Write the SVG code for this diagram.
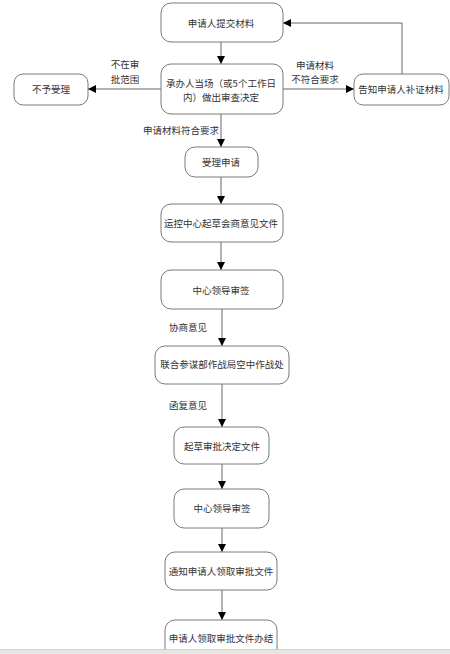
<svg xmlns="http://www.w3.org/2000/svg" width="450" height="654" viewBox="0 0 450 654">
<defs>
<style>
.box{fill:#fff;stroke:#7a7a7a;stroke-width:1}
.t{font-family:"Noto Sans CJK SC","Liberation Serif",serif;font-size:9.5px;fill:#333;text-anchor:middle;dominant-baseline:central}
.c{fill:none;stroke:#666;stroke-width:1}
</style>
<marker id="ah" markerWidth="8" markerHeight="8" refX="8" refY="4" orient="auto" markerUnits="userSpaceOnUse">
<path d="M0,0 L8,4 L0,8 Z" fill="#000"/>
</marker>
</defs>
<rect width="450" height="654" fill="#fff"/>
<g id="connectors">
<line class="c" x1="221" y1="42" x2="221" y2="64" marker-end="url(#ah)"/>
<line class="c" x1="161" y1="89" x2="88" y2="89" marker-end="url(#ah)"/>
<line class="c" x1="283" y1="89" x2="354" y2="89" marker-end="url(#ah)"/>
<polyline class="c" points="402,74 402,23 283,23" marker-end="url(#ah)"/>
<line class="c" x1="221" y1="114" x2="221" y2="147" marker-end="url(#ah)"/>
<line class="c" x1="221" y1="177" x2="221" y2="204" marker-end="url(#ah)"/>
<line class="c" x1="221" y1="242" x2="221" y2="270" marker-end="url(#ah)"/>
<line class="c" x1="222" y1="309" x2="222" y2="346" marker-end="url(#ah)"/>
<line class="c" x1="222" y1="384" x2="222" y2="427" marker-end="url(#ah)"/>
<line class="c" x1="222" y1="464" x2="222" y2="489" marker-end="url(#ah)"/>
<line class="c" x1="222" y1="528" x2="222" y2="552" marker-end="url(#ah)"/>
<line class="c" x1="222" y1="590" x2="222" y2="620" marker-end="url(#ah)"/>
<text class="t" x="125" y="64">不在审</text>
<text class="t" x="125" y="79">批范围</text>
<text class="t" x="315" y="65">申请材料</text>
<text class="t" x="315" y="79">不符合要求</text>
<text class="t" x="181" y="130">申请材料符合要求</text>
<text class="t" x="188" y="327">协商意见</text>
<text class="t" x="188" y="405">函复意见</text>
</g>
<g id="n1"><rect class="box" x="161" y="3" width="122" height="39" rx="10"/><text class="t" x="221" y="23">申请人提交材料</text></g>
<g id="n2"><rect class="box" x="161" y="64" width="122" height="50" rx="10"/><text class="t" x="221" y="83">承办人当场（或5个工作日</text><text class="t" x="221" y="97">内）做出审查决定</text></g>
<g id="n3"><rect class="box" x="14" y="74" width="74" height="31" rx="9"/><text class="t" x="51" y="89">不予受理</text></g>
<g id="n4"><rect class="box" x="354" y="74" width="95" height="31" rx="9"/><text class="t" x="401" y="89">告知申请人补证材料</text></g>
<g id="n5"><rect class="box" x="185" y="147" width="73" height="30" rx="10"/><text class="t" x="221" y="162">受理申请</text></g>
<g id="n6"><rect class="box" x="161" y="204" width="122" height="38" rx="10"/><text class="t" x="221" y="223">运控中心起草会商意见文件</text></g>
<g id="n7"><rect class="box" x="161" y="270" width="122" height="39" rx="10"/><text class="t" x="221" y="290">中心领导审签</text></g>
<g id="n8"><rect class="box" x="155" y="346" width="134" height="38" rx="10"/><text class="t" x="222" y="364">联合参谋部作战局空中作战处</text></g>
<g id="n9"><rect class="box" x="174" y="427" width="95" height="37" rx="10"/><text class="t" x="222" y="446">起草审批决定文件</text></g>
<g id="n10"><rect class="box" x="174" y="489" width="95" height="39" rx="10"/><text class="t" x="222" y="508">中心领导审签</text></g>
<g id="n11"><rect class="box" x="165" y="552" width="112" height="38" rx="10"/><text class="t" x="221" y="571">通知申请人领取审批文件</text></g>
<g id="n12"><rect class="box" x="165" y="620" width="112" height="40" rx="10"/><text class="t" x="221" y="638">申请人领取审批文件办结</text></g>
<rect x="0" y="649" width="450" height="5" fill="#e6e6e2"/>
<line x1="0" y1="649.5" x2="450" y2="649.5" stroke="#cfcfcf"/>
</svg>
